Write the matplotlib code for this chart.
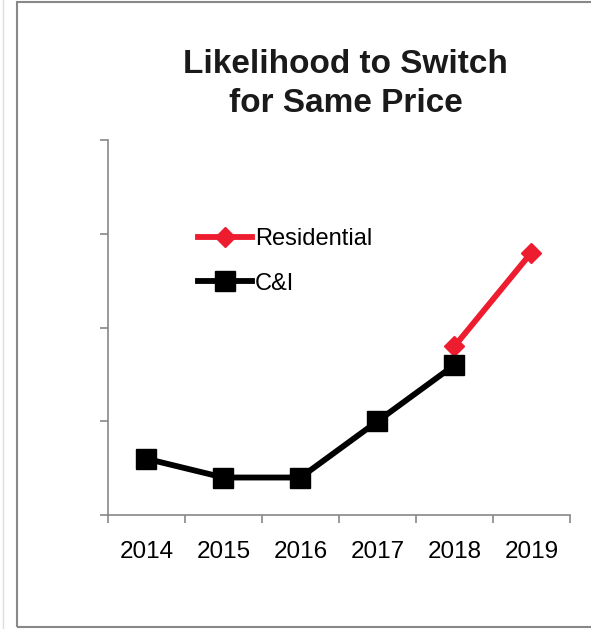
import matplotlib.pyplot as plt
import numpy as np
from matplotlib.patches import Rectangle
from matplotlib.lines import Line2D

plt.rcParams['font.family'] = ['Liberation Sans', 'DejaVu Sans']

years = ['2014', '2015', '2016', '2017', '2018', '2019']
residential = [np.nan, np.nan, np.nan, np.nan, 9, 14]
ci = [3, 2, 2, 5, 8, np.nan]

fig = plt.figure(figsize=(5.91, 6.29), dpi=100)
ax = fig.add_axes([0.1827, 0.1812, 0.7817, 0.5962])

x = np.arange(len(years))
ax.plot(x, residential, color='#ED1C2E', lw=4.2, marker='D', ms=10, label='Residential')
ax.plot(x, ci, color='black', lw=4.2, marker='s', ms=14, label='C&I')

ax.set_xlim(-0.5, 5.5)
ax.set_ylim(0, 20)
ax.set_yticks([0, 5, 10, 15, 20])
ax.set_yticklabels([])
ax.set_xticks(np.arange(-0.5, 6, 1))
ax.set_xticklabels([])
ax.set_xticks(x, minor=True)
ax.set_xticklabels(years, minor=True, fontsize=17.5)
ax.tick_params(axis='x', which='minor', length=0, pad=19)
ax.tick_params(axis='both', which='major', color='#888888', length=6, width=1.2)

for s in ['top', 'right']:
    ax.spines[s].set_visible(False)
for s in ['left', 'bottom']:
    ax.spines[s].set_color('#888888')
    ax.spines[s].set_linewidth(1.2)

ax.legend(loc='upper left', bbox_to_anchor=(0.195, 0.765), frameon=False, fontsize=17,
          handlelength=2.3, handletextpad=0.1, labelspacing=0.95, borderpad=0, borderaxespad=0)

fig.text(0.585, 0.866, 'Likelihood to Switch\nfor Same Price', ha='center', va='center',
         fontsize=24, fontweight='bold', color='#1a1a1a', linespacing=1.35)

fig.patches.append(Rectangle((17/591, 2/629), 1.0, 625/629, transform=fig.transFigure,
                             fill=False, edgecolor='#888888', lw=1.5))
fig.lines.append(Line2D([3/591, 3/591], [0, 1], transform=fig.transFigure, color='#dddddd', lw=1))

fig.savefig('out.png', dpi=100)
